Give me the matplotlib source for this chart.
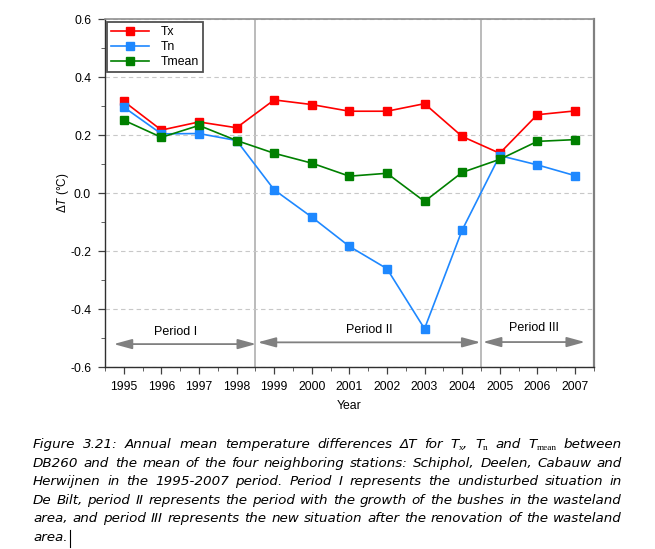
import numpy as np
import matplotlib
matplotlib.use("Agg")
import matplotlib.pyplot as plt
from matplotlib.lines import Line2D

# -------------------- data --------------------
years = [1995, 1996, 1997, 1998, 1999, 2000, 2001, 2002, 2003, 2004, 2005, 2006, 2007]
tx = [0.316, 0.217, 0.245, 0.225, 0.321, 0.305, 0.282, 0.282, 0.308, 0.195, 0.137, 0.270, 0.283]
tn = [0.296, 0.204, 0.205, 0.181, 0.011, -0.083, -0.184, -0.261, -0.468, -0.128, 0.129, 0.097, 0.060]
tmean = [0.251, 0.192, 0.233, 0.181, 0.137, 0.103, 0.058, 0.068, -0.029, 0.071, 0.116, 0.178, 0.184]

period_names = ["Period I", "Period II", "Period III"]
period_bounds = [(1994.73, 1998.52), (1998.56, 2004.49), (2004.55, 2007.27)]
period_breaks = [1998.5, 2004.5]

caption_lines = [
    "Figure 3.21: Annual mean temperature differences \u0394T for T_x, T_n and T_mean between",
    "DB260 and the mean of the four neighboring stations: Schiphol, Deelen, Cabauw and",
    "Herwijnen in the 1995-2007 period.  Period I represents the undisturbed situation in",
    "De Bilt, period II represents the period with the growth of the bushes in the wasteland",
    "area, and period III represents the new situation after the renovation of the wasteland",
    "area.",
]

sans = "Liberation Sans"
plt.rcParams["mathtext.fontset"] = "custom"
plt.rcParams["mathtext.rm"] = sans
plt.rcParams["mathtext.it"] = sans + ":italic"

W, H = 655, 549
fig = plt.figure(figsize=(W / 100, H / 100), dpi=100)
ax = fig.add_axes([105 / W, 1 - 367 / H, (593.7 - 105) / W, (367 - 19) / H])

red, blue, green = "#ff0000", "#1e88ff", "#008000"

for vals, col, lab in [(tx, red, "Tx"), (tn, blue, "Tn"), (tmean, green, "Tmean")]:
    ax.plot(years, vals, color=col, lw=1.2, marker="s", ms=5.3, label=lab)

for b in period_breaks:
    ax.axvline(b, color="#a8a8a8", lw=1.1, zorder=0)

# period arrows
arrow_y = [-0.521, -0.515, -0.514]
label_y = [-0.478, -0.472, -0.466]
for name, (x0, x1), ya, yl in zip(period_names, period_bounds, arrow_y, label_y):
    ax.annotate("", xy=(x0, ya), xytext=(x1, ya),
                arrowprops=dict(arrowstyle="<|-|>,head_length=1.1,head_width=0.3",
                                color="#808080", lw=1.3, mutation_scale=10,
                                shrinkA=0, shrinkB=0))
    ax.text((x0 + x1) / 2 - (0.25 if name == "Period I" else 0), yl, name,
            ha="center", va="center", fontsize=9, family=sans)

ax.set_xlim(1994.68, 2007.29)
ax.set_ylim(-0.6, 0.6)
ax.set_xticks(years)
ax.set_xticks(np.arange(1994.5, 2007.6, 1.0), minor=True)
ax.set_yticks([-0.6, -0.4, -0.2, 0.0, 0.2, 0.4, 0.6])
ax.set_yticks([-0.5, -0.3, -0.1, 0.1, 0.3, 0.5], minor=True)
ax.set_yticklabels(["-0.6", "-0.4", "-0.2", "0.0", "0.2", "0.4", "0.6"])
ax.tick_params(axis="both", which="major", length=5, width=0.9, color="#404040",
               labelsize=8.8, pad=5)
ax.tick_params(axis="both", which="minor", length=3, width=0.7, color="#606060")
for lbl in ax.get_xticklabels() + ax.get_yticklabels():
    lbl.set_family(sans)

ax.grid(axis="y", which="major", color="#c8c8c8", ls=(0, (4, 3)), lw=0.8)
ax.set_axisbelow(True)

for side in ["left", "bottom"]:
    ax.spines[side].set_color("#303030")
    ax.spines[side].set_linewidth(1.0)
ax.spines["right"].set_color("#808080")
ax.spines["right"].set_linewidth(1.6)
ax.spines["top"].set_color("#909090")
ax.spines["top"].set_linewidth(1.2)
ax.spines["top"].set_linestyle((0, (2, 1)))

ax.set_xlabel("Year", fontsize=8.8, family=sans, labelpad=5)
fig.text(63 / W, 1 - 192.5 / H, r"$\Delta\mathit{T}$ (°C)", rotation=90,
         ha="center", va="center", fontsize=8.5, family=sans)

leg = ax.legend(loc="upper left", bbox_to_anchor=(0.004, 0.992), borderaxespad=0,
                fancybox=False, edgecolor="#505050", framealpha=1, borderpad=0.35,
                handlelength=3.05, handletextpad=1.0, labelspacing=0.25,
                prop={"family": sans, "size": 8.8})
leg.get_frame().set_linewidth(1.3)

# -------------------- justified caption --------------------
renderer = fig.canvas.get_renderer()
cap_size = 9.7
main_kw = dict(fontsize=cap_size, family="DejaVu Sans", style="italic")
sub_kw = dict(fontsize=6.6, family="Liberation Serif")


def word_runs(w):
    if w.startswith("T_"):
        rest = w[2:]
        tail = ""
        if rest.endswith(","):
            rest, tail = rest[:-1], ","
        runs = [("T", main_kw, 0), (rest, sub_kw, -2.5)]
        if tail:
            runs.append((tail, main_kw, 0))
        return runs
    return [(w, main_kw, 0)]


def measure(s, kw):
    t = fig.text(0, 0, s, **kw)
    wpx = t.get_window_extent(renderer).width
    t.remove()
    return wpx


space_w = measure("a a", main_kw) - measure("aa", main_kw)
left, right = 33.0, 622.0
base0, dline = 448.0, 18.6
last_end = left
for i, line in enumerate(caption_lines):
    words = [word_runs(w) for w in line.split()]
    widths = [sum(measure(s, kw) for s, kw, _ in runs) for runs in words]
    last = i == len(caption_lines) - 1
    if last or len(words) < 2:
        gap = space_w
    else:
        gap = (right - left - sum(widths)) / (len(words) - 1)
    x = left
    yb = base0 + i * dline
    for runs, wd in zip(words, widths):
        xx = x
        for s, kw, dy in runs:
            fig.text(xx / W, 1 - (yb - dy) / H, s, ha="left", va="baseline", **kw)
            xx += measure(s, kw)
        x += wd + gap
    last_end = x - gap

# text cursor after the final word
fig.add_artist(Line2D([(last_end + 2) / W] * 2, [1 - 547 / H, 1 - 530 / H],
                      color="black", lw=0.8))

fig.savefig("out.png", dpi=100)
